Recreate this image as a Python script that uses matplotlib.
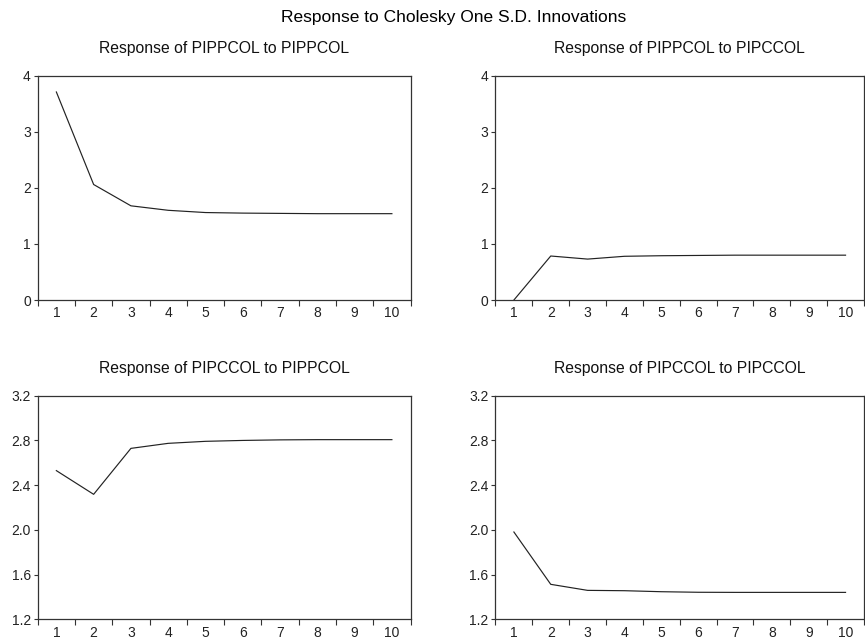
import matplotlib
matplotlib.use("Agg")
import matplotlib.pyplot as plt

plt.rcParams["font.family"] = ["Liberation Sans", "DejaVu Sans"]

periods = [1, 2, 3, 4, 5, 6, 7, 8, 9, 10]

# impulse responses
pippcol_to_pippcol = [3.71, 2.06, 1.68, 1.60, 1.56, 1.55, 1.545, 1.54, 1.54, 1.54]
pippcol_to_pipccol = [0.0, 0.785, 0.73, 0.78, 0.79, 0.795, 0.80, 0.80, 0.80, 0.80]
pipccol_to_pippcol = [2.53, 2.318, 2.729, 2.774, 2.792, 2.80, 2.805, 2.807, 2.807, 2.807]
pipccol_to_pipccol = [1.981, 1.513, 1.459, 1.456, 1.447, 1.442, 1.441, 1.441, 1.441, 1.441]

titles = ["Response of PIPPCOL to PIPPCOL", "Response of PIPPCOL to PIPCCOL",
          "Response of PIPCCOL to PIPPCOL", "Response of PIPCCOL to PIPCCOL"]
series = [pippcol_to_pippcol, pippcol_to_pipccol, pipccol_to_pippcol, pipccol_to_pipccol]
yticks_top = [0, 1, 2, 3, 4]
yticks_bot = [1.2, 1.6, 2.0, 2.4, 2.8, 3.2]

fig = plt.figure(figsize=(8.65, 6.4), dpi=100)
fig.text(0.524, 0.973, "Response to Cholesky One S.D. Innovations", ha="center", va="center", fontsize=12.5)

boxes = [
    [0.0436, 0.5312, 0.431, 0.3505],
    [0.5728, 0.5312, 0.4260, 0.3505],
    [0.0436, 0.0323, 0.431, 0.3494],
    [0.5728, 0.0323, 0.4260, 0.3494],
]

for i in range(4):
    ax = fig.add_axes(boxes[i])
    ax.plot(periods, series[i], color="#222222", lw=0.85)
    ax.set_xlim(0.5, 10.5)
    if i < 2:
        ax.set_ylim(0, 4)
        ax.set_yticks(yticks_top)
        ax.set_yticklabels([str(t) for t in yticks_top])
    else:
        ax.set_ylim(1.2, 3.2)
        ax.set_yticks(yticks_bot)
        ax.set_yticklabels(["%.1f" % t for t in yticks_bot])
    # tick marks between periods, labels at periods
    ax.set_xticks([p - 0.5 for p in periods] + [10.5])
    ax.set_xticklabels([])
    ax.set_xticks(periods, minor=True)
    ax.set_xticklabels([str(p) for p in periods], minor=True)
    ax.tick_params(axis="x", which="major", direction="out", length=4, width=0.8, color="#333333")
    ax.tick_params(axis="x", which="minor", length=0, pad=4.5, labelsize=10, labelcolor="#222222")
    ax.tick_params(axis="y", direction="out", length=3, width=0.8, color="#333333",
                   labelsize=10, labelcolor="#222222", pad=2)
    for s in ax.spines.values():
        s.set_color("#333333")
        s.set_linewidth(0.9)
    ax.set_title(titles[i], fontsize=11.3, pad=16, color="#111111")

fig.savefig("out.png", dpi=100)
